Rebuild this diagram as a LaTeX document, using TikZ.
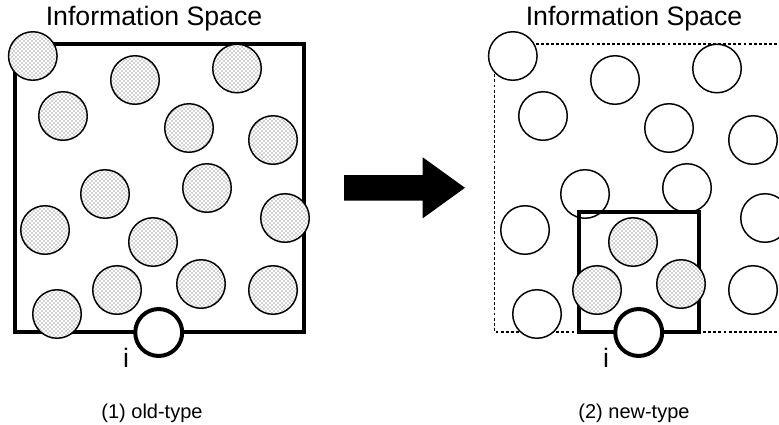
\documentclass[tikz,border=0pt]{standalone}
\usepackage{fontspec}
\setmainfont{Liberation Sans}
\usetikzlibrary{patterns}
\begin{document}
\begin{tikzpicture}[x=0.75pt,y=-0.75pt,
  dotball/.style={draw=black,line width=1.1pt,preaction={fill=white},pattern=crosshatch dots,pattern color=black!75},
  openball/.style={draw=black,line width=1.1pt,fill=white},
  portball/.style={draw=black,line width=3pt,fill=white},
  spacebox/.style={draw=black,line width=3pt},
  dashbox/.style={draw=black,line width=0.9pt,dash pattern=on 2.2pt off 1.6pt},
  title/.style={font=\fontsize{20pt}{24pt}\selectfont,anchor=base},
  caption/.style={font=\fontsize{15pt}{18pt}\selectfont,anchor=base}]
\useasboundingbox (0,0) rectangle (779,425);

% ball positions of the information space
\def\ballsA{32.8/56, 135/80, 237/68.5, 63/116, 189/128, 273/140, 105/194, 207/188,
  285/218, 45/230, 273/290, 57/314}
\def\ballsB{153/242, 117/290, 201/284}

% ---------- (1) old-type ----------
\node[title] (t1) at (154,25.7) {Information Space};
\draw[spacebox] (14.7,44) rectangle (303.5,332);
\foreach \x/\y in \ballsA { \draw[dotball] (\x,\y) circle[radius=18.2pt]; }
\foreach \x/\y in \ballsB { \draw[dotball] (\x,\y) circle[radius=18.2pt]; }
\draw[portball] (158.7,332.5) circle[radius=17.6pt];
\node[title] (i1) at (126,367) {i};
\node[caption] (c1) at (152,418) {(1) old-type};

% ---------- arrow ----------
\fill[black] (344,175) -- (422.7,175) -- (422.7,157.3) -- (465,187.8)
  -- (422.7,218.3) -- (422.7,200.7) -- (344,200.7) -- cycle;

% ---------- (2) new-type ----------
\begin{scope}[xshift=360pt]
\node[title] (t2) at (154,25.7) {Information Space};
\draw[dashbox] (14.7,44) rectangle (303.5,332);
\foreach \x/\y in \ballsA { \draw[openball] (\x,\y) circle[radius=18.2pt]; }
\draw[spacebox] (99,212) rectangle (218.7,332);
\foreach \x/\y in \ballsB { \draw[dotball] (\x,\y) circle[radius=18.2pt]; }
\draw[portball] (158.7,332.5) circle[radius=17.6pt];
\node[title] (i2) at (126,367) {i};
\node[caption] (c2) at (154,418) {(2) new-type};
\end{scope}
\end{tikzpicture}
\end{document}
